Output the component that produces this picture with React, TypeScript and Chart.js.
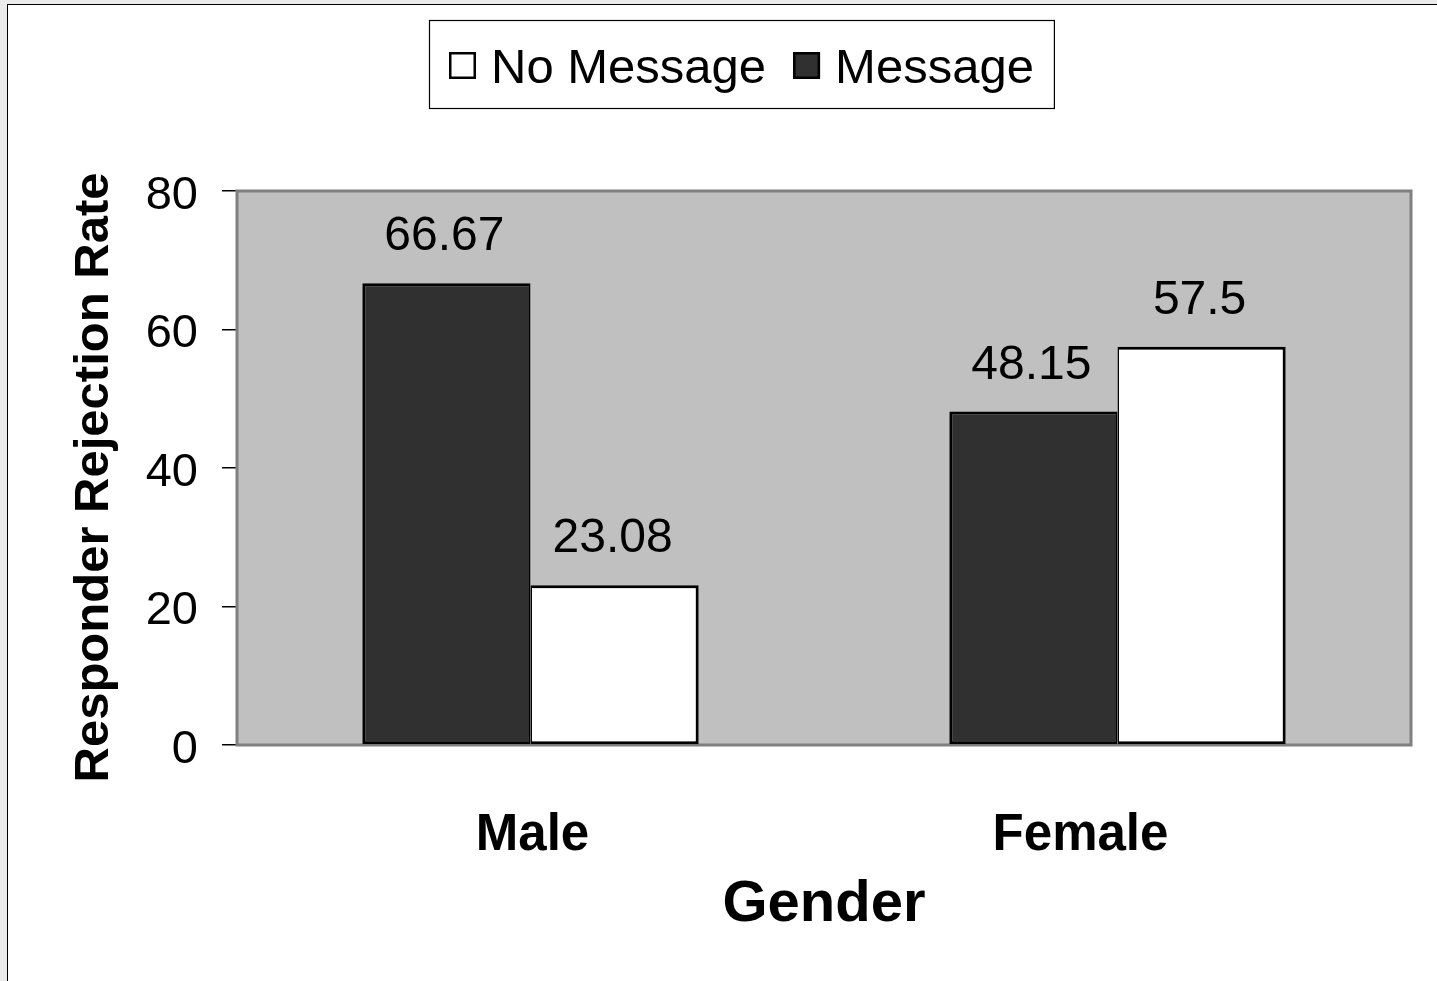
import React, { useEffect, useRef } from "react";
import { Chart, registerables } from "chart.js";

Chart.register(...registerables);

// ---- data ----
const categories = ["Male", "Female"];
const seriesLabels = ["Message", "No Message"];
const messageValues = [66.67, 48.15];
const noMessageValues = [23.08, 57.5];
const yTickValues = [0, 20, 40, 60, 80];
const xAxisTitle = "Gender";
const yAxisTitle = "Responder Rejection Rate";

const FONT = '"Liberation Sans", Arial, Helvetica, sans-serif';

const plotBackground = {
  id: "plotBackground",
  beforeDraw(chart: any) {
    const { ctx, chartArea } = chart;
    ctx.save();
    ctx.fillStyle = "#c0c0c0";
    ctx.fillRect(chartArea.left, chartArea.top, chartArea.right - chartArea.left, chartArea.bottom - chartArea.top);
    ctx.restore();
  },
  beforeDatasetsDraw(chart: any) {
    const { ctx, chartArea } = chart;
    ctx.save();
    ctx.strokeStyle = "#808080";
    ctx.lineWidth = 3;
    ctx.strokeRect(chartArea.left, chartArea.top, chartArea.right - chartArea.left, chartArea.bottom - chartArea.top);
    ctx.restore();
  },
};

// the reference draws the second category label a little left of its category centre
const categoryLabelNudge = {
  id: "categoryLabelNudge",
  beforeDraw(chart: any) {
    const xs = chart.scales.x;
    if (!xs || !xs.getLabelItems) return;
    const items = xs.getLabelItems(chart.chartArea);
    const nudges = [2, -37];
    items.forEach((it: any, i: number) => {
      if (it.__nudged) return;
      const t = it.options.translation;
      it.options.translation = [t[0] + (nudges[i] || 0), t[1]];
      it.__nudged = true;
    });
  },
};

const yTitle = {
  id: "yTitle",
  afterDraw(chart: any) {
    const { ctx } = chart;
    const ys = chart.scales.y;
    ctx.save();
    ctx.translate(86, (ys.top + ys.bottom) / 2 + 9.5);
    ctx.rotate(-Math.PI / 2);
    ctx.font = `bold 49px ${FONT}`;
    ctx.fillStyle = "#000";
    ctx.textAlign = "center";
    ctx.textBaseline = "middle";
    ctx.fillText(yAxisTitle, 0, 0);
    ctx.restore();
  },
};

const valueLabels = {
  id: "valueLabels",
  afterDatasetsDraw(chart: any) {
    const { ctx } = chart;
    ctx.save();
    ctx.font = `48px ${FONT}`;
    ctx.fillStyle = "#000";
    ctx.textAlign = "center";
    ctx.textBaseline = "alphabetic";
    chart.data.datasets.forEach((ds: any, di: number) => {
      const meta = chart.getDatasetMeta(di);
      meta.data.forEach((bar: any, i: number) => {
        ctx.fillText(String(ds.data[i]), bar.x - 2, bar.y - 33);
      });
    });
    ctx.restore();
  },
};

const boxLegend = {
  id: "boxLegend",
  afterDraw(chart: any) {
    const { ctx } = chart;
    const items = chart.data.datasets.map((d: any) => d).reverse();
    const fontSize = 49;
    const sq = 27;
    const padX = 20;
    const gapText = 15;
    const gapItem = 27;
    const top = 15;
    const h = 88;
    const cx = 733.5;
    ctx.save();
    ctx.font = `${fontSize}px ${FONT}`;
    const widths = items.map((d: any) => ctx.measureText(d.label).width);
    let total = padX * 2 + gapItem * (items.length - 1);
    widths.forEach((w: number) => (total += sq + gapText + w));
    const left = Math.round(cx - total / 2);
    ctx.fillStyle = "#fff";
    ctx.fillRect(left, top, total, h);
    ctx.strokeStyle = "#000";
    ctx.lineWidth = 1.2;
    ctx.strokeRect(left + 0.5, top + 0.5, total, h);
    let x = left + padX;
    items.forEach((d: any, i: number) => {
      ctx.fillStyle = d.backgroundColor;
      ctx.fillRect(x, 47, sq, sq);
      ctx.strokeStyle = "#000";
      ctx.lineWidth = 2.5;
      ctx.strokeRect(x + 1.25, 47 + 1.25, sq - 2.5, sq - 2.5);
      x += sq + gapText;
      ctx.fillStyle = "#000";
      ctx.textAlign = "left";
      ctx.textBaseline = "alphabetic";
      ctx.fillText(d.label, x, 78);
      x += widths[i] + gapItem;
    });
    ctx.restore();
  },
};

export default function App() {
  const canvasRef = useRef<HTMLCanvasElement | null>(null);

  useEffect(() => {
    const canvas = canvasRef.current;
    if (!canvas) return;
    const chart = new Chart(canvas, {
      type: "bar",
      data: {
        labels: categories,
        datasets: [
          {
            label: seriesLabels[0],
            data: messageValues,
            backgroundColor: "#303030",
            borderColor: "#000000",
            borderWidth: { top: 3, left: 3, bottom: 3, right: 1.5 },
            borderSkipped: false,
          },
          {
            label: seriesLabels[1],
            data: noMessageValues,
            backgroundColor: "#ffffff",
            borderColor: "#000000",
            borderWidth: { top: 3, left: 1.5, bottom: 3, right: 3 },
            borderSkipped: false,
          },
        ],
      },
      options: {
        responsive: false,
        animation: false,
        devicePixelRatio: 1,
        layout: { padding: { top: 186, left: 0, right: 26, bottom: 0 } },
        datasets: { bar: { barPercentage: 1, categoryPercentage: 0.573 } } as any,
        plugins: {
          legend: { display: false },
          tooltip: { enabled: false },
          title: { display: false },
        },
        scales: {
          x: {
            grid: { display: false, drawTicks: false },
            border: { display: false },
            ticks: {
              color: "#000",
              font: { family: FONT, size: 51, weight: "bold" },
              padding: 60,
            },
            title: {
              display: true,
              text: xAxisTitle,
              color: "#000",
              font: { family: FONT, size: 58, weight: "bold" },
              padding: { top: 0, bottom: 41 },
            },
            afterFit: (s: any) => {
              s.height = 236;
            },
          },
          y: {
            min: 0,
            max: 80,
            afterBuildTicks: (s: any) => {
              s.ticks = yTickValues.map((v) => ({ value: v }));
            },
            ticks: {
              color: "#000",
              font: { family: FONT, size: 47 },
              padding: 24,
              labelOffset: 5,
            },
            grid: {
              display: true,
              drawOnChartArea: false,
              drawTicks: true,
              tickLength: 15,
              color: "#000",
              lineWidth: 1.5,
            },
            border: { display: false },
            title: { display: false },
            afterFit: (s: any) => {
              s.width = 229;
            },
          },
        },
      } as any,
      plugins: [plotBackground, categoryLabelNudge, valueLabels, yTitle, boxLegend],
    });
    return () => chart.destroy();
  }, []);

  return (
    <div
      style={{
        position: "fixed",
        left: 0,
        top: 0,
        width: 1437,
        height: 981,
        background: "#ebebeb",
        overflow: "hidden",
      }}
    >
      <div
        style={{
          position: "absolute",
          left: 7,
          top: 4,
          width: 1440,
          height: 990,
          background: "#ffffff",
          borderLeft: "1px solid #000",
          borderTop: "1px solid #000",
        }}
      />
      <canvas
        ref={canvasRef}
        width={1429}
        height={976}
        style={{ position: "absolute", left: 8, top: 5, width: 1429, height: 976 }}
      />
    </div>
  );
}
